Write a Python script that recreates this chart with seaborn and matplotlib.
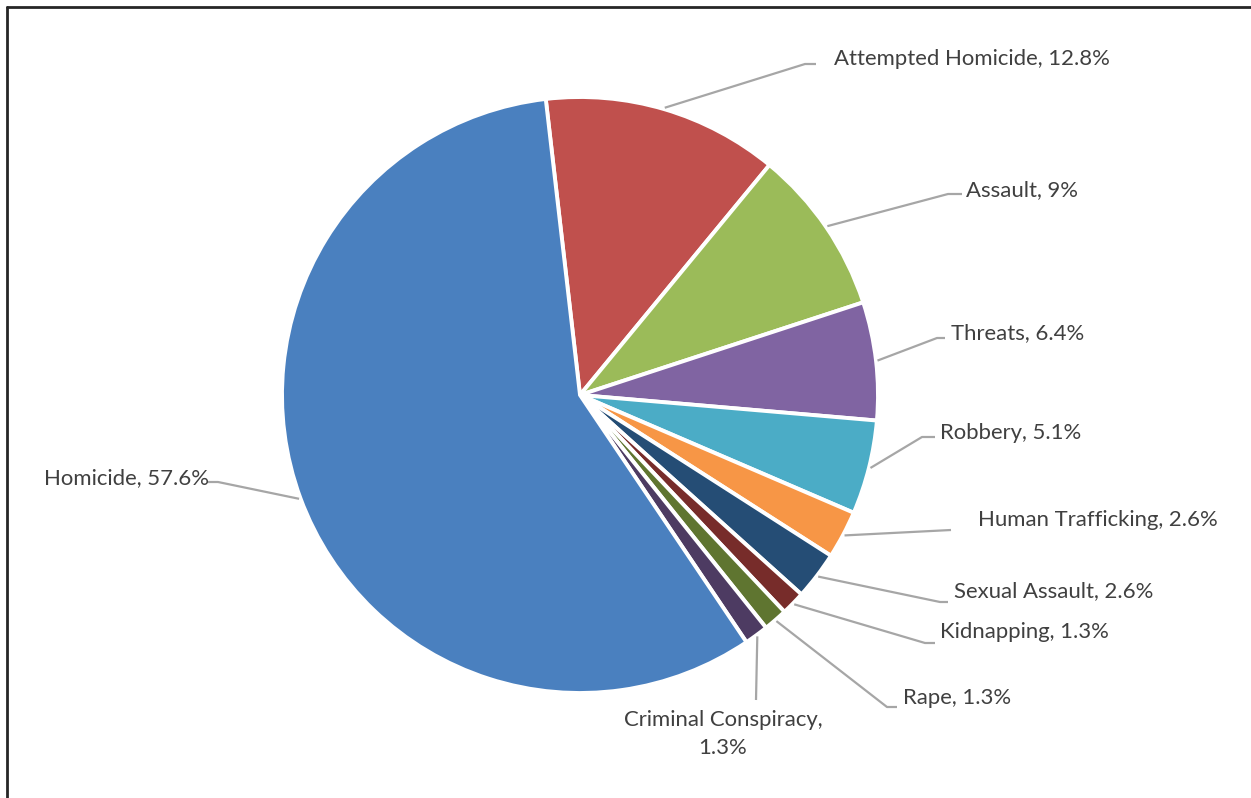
import matplotlib
matplotlib.use("Agg")
import matplotlib.pyplot as plt
import seaborn as sns
import numpy as np
from matplotlib.lines import Line2D

# ---- data ----
categories = ["Attempted Homicide", "Assault", "Threats", "Robbery",
              "Human Trafficking", "Sexual Assault", "Kidnapping", "Rape",
              "Criminal Conspiracy", "Homicide"]
shares = [12.8, 9, 6.4, 5.1, 2.6, 2.6, 1.3, 1.3, 1.3, 57.6]
label_texts = ["Attempted Homicide, 12.8%", "Assault, 9%", "Threats, 6.4%",
               "Robbery, 5.1%", "Human Trafficking, 2.6%", "Sexual Assault, 2.6%",
               "Kidnapping, 1.3%", "Rape, 1.3%", "Criminal Conspiracy,\n1.3%",
               "Homicide, 57.6%"]
slice_colors = ["#C0504D", "#9BBB59", "#8064A2", "#4BACC6", "#F79646",
                "#254D75", "#772C2A", "#5F7530", "#4D3B62", "#4A80BF"]

# ---- layout (pixel coords, origin top-left) ----
W, H = 1251, 798
CX, CY, R = 580, 395, 298
# text anchor (x, y, ha) and leader elbow points after the wedge anchor
text_pos = [(834, 59, "left"), (966, 190, "left"), (951, 333, "left"),
            (940, 433, "left"), (978, 520, "left"), (954, 591, "left"),
            (940, 632, "left"), (903, 698, "left"), (723, 734, "center"),
            (44, 478, "left")]
elbows = [[(805, 64), (816, 64)], [(948, 194), (962, 194)],
          [(937, 338), (945, 338)], [(922, 437), (935, 437)],
          [(951, 530)], [(940, 602), (948, 602)],
          [(925, 643), (935, 643)], [(887, 707), (897, 707)],
          [(756, 700)], [(218, 482), (207, 482)]]

sns.set_theme(style="white")
plt.rcParams['font.family'] = ['Lato', 'DejaVu Sans']

fig = plt.figure(figsize=(W / 100, H / 100), dpi=100)
ax = fig.add_axes([0, 0, 1, 1])
ax.set_xlim(0, W)
ax.set_ylim(0, H)
ax.set_aspect("equal")
ax.axis("off")

def px(x, y):
    return x, H - y

palette = sns.color_palette(slice_colors)
wedges, _ = ax.pie(shares, colors=palette, startangle=96.6, counterclock=False,
                   center=px(CX, CY), radius=R,
                   wedgeprops=dict(edgecolor="white", linewidth=2.8))
ax.set_xlim(0, W)
ax.set_ylim(0, H)

lead_color = "#A6A6A6"
for w, txt, (tx, ty, ha), elb in zip(wedges, label_texts, text_pos, elbows):
    mid = np.deg2rad((w.theta1 + w.theta2) / 2)
    sx = CX + R * 1.005 * np.cos(mid)
    sy = CY - R * 1.005 * np.sin(mid)
    pts = [(sx, sy)] + elb
    xs = [p[0] for p in pts]
    ys = [H - p[1] for p in pts]
    ax.plot(xs, ys, color=lead_color, lw=1.6, solid_capstyle="butt")
    ax.text(*px(tx, ty), txt, ha=ha, va="center", fontsize=15.9,
            color="#404040", linespacing=1.55)

# chart frame (top & left edges visible)
fig.add_artist(Line2D([7 / W, 1], [1 - 7 / H, 1 - 7 / H], color="#262626", lw=2.0,
                      transform=fig.transFigure))
fig.add_artist(Line2D([7 / W, 7 / W], [0, 1 - 7 / H], color="#262626", lw=2.0,
                      transform=fig.transFigure))

fig.savefig("out.png", dpi=100, facecolor="white")
